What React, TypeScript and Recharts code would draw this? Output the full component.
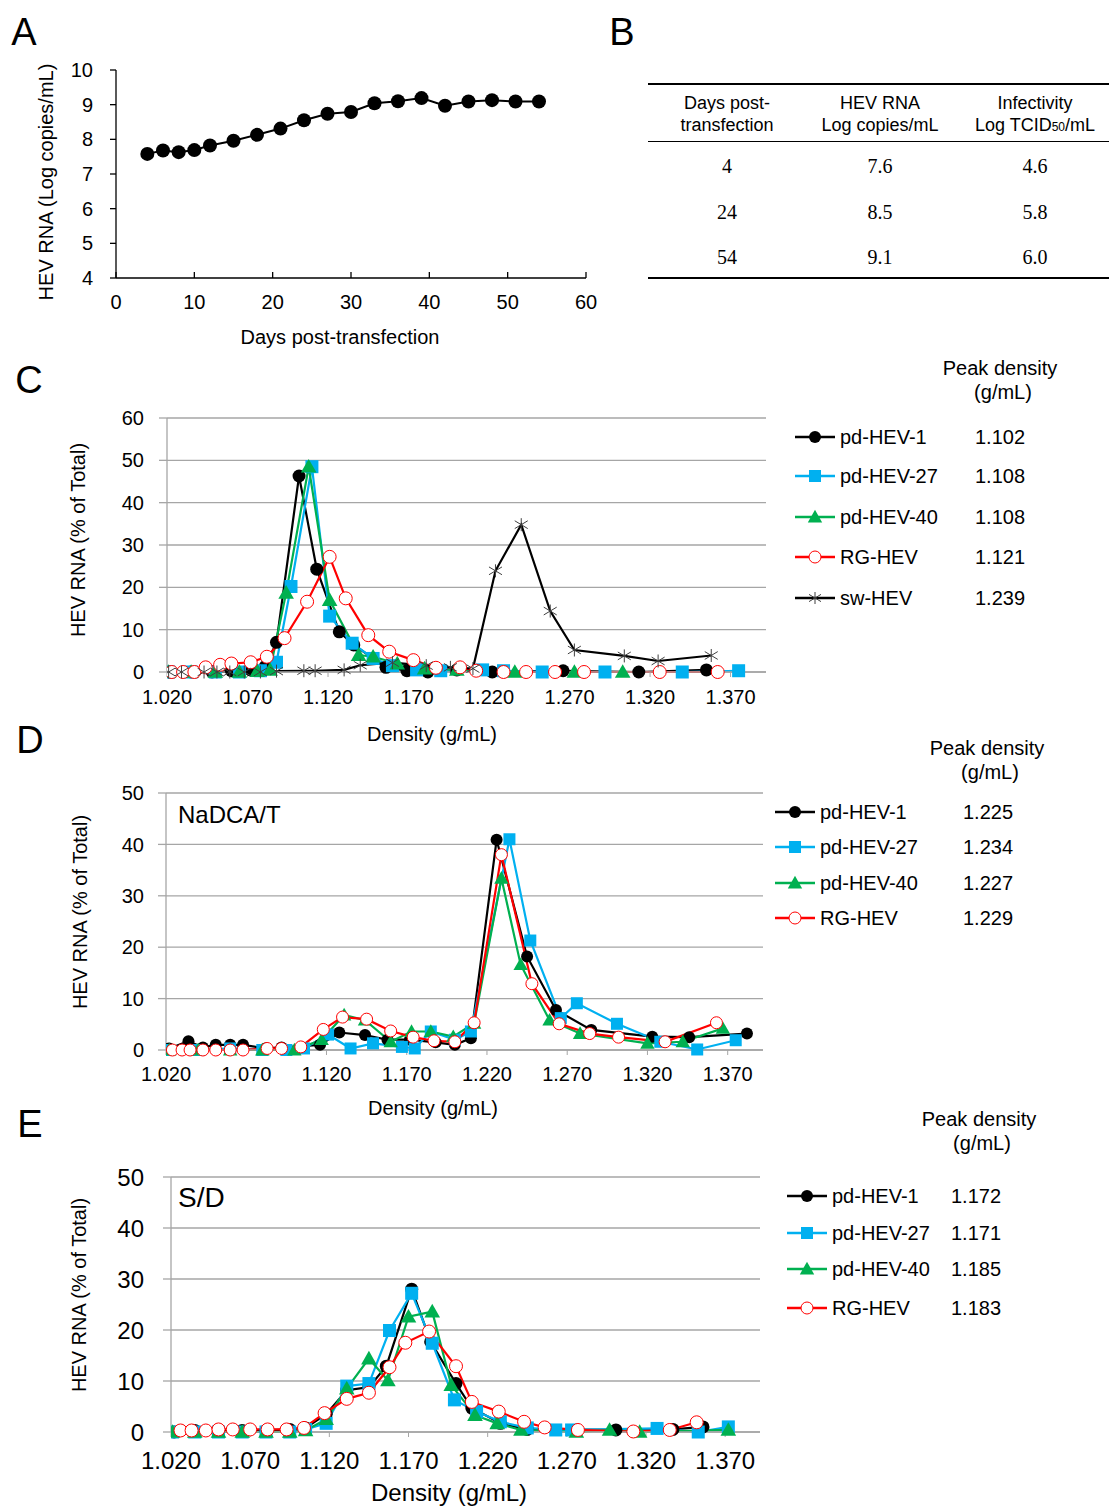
import React from 'react';
import { LineChart, Line, XAxis, YAxis, CartesianGrid } from 'recharts';

const SANS = '"Liberation Sans", Arial, sans-serif';
const SERIF = '"Liberation Serif", "Times New Roman", serif';
const GRID = '#a6a6a6';

// Panel A: HEV RNA over time
const aDays = [4, 6, 8, 10, 12, 15, 18, 21, 24, 27, 30, 33, 36, 39, 42, 45, 48, 51, 54];
const aRna = [7.58, 7.68, 7.63, 7.69, 7.82, 7.96, 8.13, 8.31, 8.55, 8.74, 8.79, 9.04, 9.1, 9.19, 8.97, 9.09, 9.13, 9.09, 9.09];
const aXTicks = [0, 10, 20, 30, 40, 50, 60];
const aYTicks = [4, 5, 6, 7, 8, 9, 10];

// Panel B: table
const tableDays = ['4', '24', '54'];
const tableRna = ['7.6', '8.5', '9.1'];
const tableInf = ['4.6', '5.8', '6.0'];

const densityTicks = [1.02, 1.07, 1.12, 1.17, 1.22, 1.27, 1.32, 1.37];

// Panel C
const c1x = [1.022, 1.035, 1.048, 1.06, 1.072, 1.081, 1.088, 1.102, 1.113, 1.127, 1.136, 1.156, 1.169, 1.182, 1.2, 1.222, 1.266, 1.313, 1.355];
const c1y = [0, 0, 0, 0.3, 0.5, 1.3, 7.0, 46.3, 24.3, 9.5, 6.4, 1.1, 0.3, 0, 0.5, 0, 0.3, 0, 0.5];
const c27x = [1.021, 1.035, 1.05, 1.065, 1.078, 1.088, 1.097, 1.11, 1.121, 1.135, 1.148, 1.16, 1.175, 1.19, 1.216, 1.229, 1.253, 1.292, 1.34, 1.375];
const c27y = [0, 0, 0, 0, 0.3, 2.3, 20.2, 48.5, 13.2, 6.8, 3.2, 1.5, 0.5, 0.3, 0.5, 0.3, 0, 0, 0, 0.3];
const c40x = [1.021, 1.035, 1.05, 1.065, 1.076, 1.084, 1.094, 1.108, 1.121, 1.139, 1.148, 1.163, 1.18, 1.2, 1.236, 1.273, 1.303];
const c40y = [0, 0, 0, 0, 0.2, 0.5, 18.7, 48.5, 17, 4.0, 3.6, 2.0, 0.8, 0.5, 0, 0, 0];
const cRgx = [1.023, 1.03, 1.037, 1.044, 1.053, 1.06, 1.072, 1.082, 1.093, 1.107, 1.121, 1.131, 1.145, 1.158, 1.173, 1.187, 1.202, 1.212, 1.229, 1.243, 1.261, 1.279, 1.326, 1.362];
const cRgy = [0, 0, 0, 1.1, 1.7, 2.0, 2.3, 3.6, 8.0, 16.6, 27.2, 17.4, 8.7, 4.8, 2.8, 1.0, 1.1, 0.3, 0, 0, 0, 0, 0, 0];
const cSwx = [1.021, 1.029, 1.043, 1.051, 1.059, 1.068, 1.078, 1.088, 1.105, 1.112, 1.13, 1.14, 1.16, 1.181, 1.196, 1.21, 1.224, 1.24, 1.258, 1.273, 1.304, 1.325, 1.358];
const cSwy = [0, 0, 0, 0, 0, 0, 0, 0.2, 0.3, 0.3, 0.5, 1.6, 2.2, 1.5, 1.1, 0.8, 23.9, 34.8, 14.4, 5.2, 3.8, 2.6, 3.9];
const cPeaks = ['1.102', '1.108', '1.108', '1.121', '1.239'];

// Panel D (NaDCA/T)
const d1x = [1.022, 1.034, 1.043, 1.051, 1.06, 1.068, 1.082, 1.092, 1.116, 1.128, 1.144, 1.158, 1.172, 1.188, 1.2, 1.21, 1.226, 1.245, 1.263, 1.285, 1.323, 1.346, 1.382];
const d1y = [0.3, 1.7, 0.5, 1.0, 1.0, 1.0, 0.3, 0.5, 1.0, 3.4, 2.9, 2.0, 2.0, 1.5, 1.0, 2.3, 40.9, 18.2, 7.8, 3.9, 2.6, 2.5, 3.2];
const d27x = [1.021, 1.04, 1.06, 1.08, 1.095, 1.106, 1.121, 1.135, 1.149, 1.167, 1.175, 1.185, 1.2, 1.21, 1.234, 1.247, 1.266, 1.276, 1.301, 1.328, 1.351, 1.375];
const d27y = [0, 0, 0.3, 0, 0, 0.3, 3.0, 0.3, 1.3, 0.6, 0.3, 3.6, 2.0, 3.6, 41, 21.3, 6.2, 9.1, 5.1, 1.6, 0.1, 1.9];
const d40x = [1.022, 1.04, 1.06, 1.08, 1.1, 1.117, 1.131, 1.144, 1.16, 1.173, 1.185, 1.199, 1.212, 1.229, 1.241, 1.259, 1.278, 1.32, 1.342, 1.367];
const d40y = [0, 0, 0, 0, 0, 2.0, 6.8, 5.8, 1.6, 3.6, 3.6, 2.6, 5.2, 33.4, 16.6, 5.8, 3.2, 1.3, 1.6, 4.2];
const dRgx = [1.024, 1.03, 1.035, 1.043, 1.051, 1.06, 1.068, 1.083, 1.092, 1.104, 1.118, 1.13, 1.145, 1.16, 1.174, 1.187, 1.2, 1.212, 1.229, 1.248, 1.265, 1.284, 1.302, 1.331, 1.363];
const dRgy = [0, 0, 0, 0, 0, 0, 0, 0.3, 0.3, 0.6, 4.0, 6.4, 6.0, 3.7, 2.5, 1.8, 1.6, 5.3, 38, 12.9, 5.1, 3.2, 2.5, 1.6, 5.3];
const dPeaks = ['1.225', '1.234', '1.227', '1.229'];

// Panel E (S/D)
const e1x = [1.022, 1.035, 1.05, 1.065, 1.08, 1.095, 1.105, 1.118, 1.131, 1.145, 1.156, 1.172, 1.184, 1.2, 1.21, 1.228, 1.245, 1.301, 1.337, 1.356];
const e1y = [0, 0.3, 0.3, 0.3, 0.3, 0.5, 0.8, 3.5, 8.2, 8.8, 12.9, 28, 17.7, 9.5, 4.7, 1.7, 0.5, 0.4, 0.5, 1.0];
const e27x = [1.021, 1.035, 1.05, 1.065, 1.08, 1.095, 1.105, 1.118, 1.131, 1.145, 1.158, 1.172, 1.185, 1.199, 1.213, 1.228, 1.245, 1.263, 1.273, 1.327, 1.353, 1.372];
const e27y = [0, 0, 0, 0, 0, 0, 0.5, 1.7, 9.0, 9.5, 19.9, 27.2, 17.4, 6.3, 4.0, 2.0, 0.8, 0.4, 0.4, 0.7, 0, 1.0];
const e40x = [1.021, 1.035, 1.05, 1.065, 1.08, 1.095, 1.105, 1.118, 1.131, 1.145, 1.157, 1.17, 1.185, 1.197, 1.212, 1.226, 1.241, 1.276, 1.297, 1.316, 1.372];
const e40y = [0, 0, 0, 0, 0, 0, 0.3, 2.5, 8.5, 14.4, 10.1, 22.6, 23.6, 9.2, 3.3, 1.7, 0.4, 0, 0.4, 0, 0.4];
const eRgx = [1.026, 1.033, 1.042, 1.05, 1.059, 1.07, 1.081, 1.093, 1.104, 1.117, 1.131, 1.145, 1.158, 1.168, 1.183, 1.2, 1.21, 1.227, 1.243, 1.256, 1.277, 1.312, 1.335, 1.352];
const eRgy = [0.3, 0.3, 0.3, 0.5, 0.5, 0.5, 0.5, 0.5, 0.8, 3.7, 6.5, 7.7, 12.7, 17.5, 19.7, 12.9, 5.9, 4.0, 2.0, 0.9, 0.4, 0.1, 0.4, 1.9];
const ePeaks = ['1.172', '1.171', '1.185', '1.183'];

const seriesNames = ['pd-HEV-1', 'pd-HEV-27', 'pd-HEV-40', 'RG-HEV', 'sw-HEV'];

const zip = (xs: number[], ys: number[]) => xs.map((x, i) => ({ x, y: ys[i] }));

type Marker = 'circle' | 'square' | 'triangle' | 'open' | 'star';
const styles: { color: string; marker: Marker }[] = [
  { color: '#000000', marker: 'circle' },
  { color: '#00b0f0', marker: 'square' },
  { color: '#00b050', marker: 'triangle' },
  { color: '#ff0000', marker: 'open' },
  { color: '#000000', marker: 'star' },
];

function markerShape(marker: Marker, color: string, cx: number, cy: number, s: number, key?: any) {
  if (marker === 'circle') return <circle key={key} cx={cx} cy={cy} r={s / 2} fill={color} />;
  if (marker === 'square') return <rect key={key} x={cx - s / 2} y={cy - s / 2} width={s} height={s} fill={color} />;
  if (marker === 'triangle')
    return (
      <polygon
        key={key}
        points={`${cx},${cy - s * 0.6} ${cx - s * 0.6},${cy + s * 0.45} ${cx + s * 0.6},${cy + s * 0.45}`}
        fill={color}
      />
    );
  if (marker === 'open') return <circle key={key} cx={cx} cy={cy} r={s / 2} fill="#fff" stroke={color} strokeWidth={1} />;
  const r = s / 2;
  return (
    <g key={key} stroke="#404040" strokeWidth={1}>
      <line x1={cx} y1={cy - r} x2={cx} y2={cy + r} />
      <line x1={cx - r} y1={cy - r * 0.6} x2={cx + r} y2={cy + r * 0.6} />
      <line x1={cx - r} y1={cy + r * 0.6} x2={cx + r} y2={cy - r * 0.6} />
    </g>
  );
}

const makeDot = (marker: Marker, color: string, s: number) => (p: any) => {
  const { cx, cy, index } = p;
  if (cx == null || cy == null) return <g key={`d${index}`} />;
  return markerShape(marker, color, cx, cy, s, `d${index}`);
};

function T({ x, y, size = 20, children, align = 'center', rotate = false, family = SANS, color = '#000' }: any) {
  let transform = align === 'center' ? 'translate(-50%,-50%)' : 'translate(0,-50%)';
  if (rotate) transform = 'translate(-50%,-50%) rotate(-90deg)';
  return (
    <div
      style={{
        position: 'absolute',
        left: x,
        top: y,
        transform,
        fontSize: size,
        fontFamily: family,
        color,
        whiteSpace: 'nowrap',
        lineHeight: 1.15,
        textAlign: 'center',
      }}
    >
      {children}
    </div>
  );
}

function LegendBlock({ x0, x1, labelX, valueX, rows, peaks, headerX, headerY }: any) {
  return (
    <>
      <T x={headerX} y={headerY}>Peak density</T>
      <T x={headerX + 3} y={headerY + 24}>(g/mL)</T>
      {rows.map((cy: number, i: number) => (
        <React.Fragment key={i}>
          <svg style={{ position: 'absolute', left: x0, top: cy - 10 }} width={x1 - x0} height={20}>
            <line x1={0} y1={10} x2={x1 - x0} y2={10} stroke={styles[i].color} strokeWidth={2.5} />
            {markerShape(styles[i].marker, styles[i].color, (x1 - x0) / 2, 10, 12)}
          </svg>
          <T x={labelX} y={cy} align="left">{seriesNames[i]}</T>
          <T x={valueX} y={cy} align="left">{peaks[i]}</T>
        </React.Fragment>
      ))}
    </>
  );
}

function DensityChart({ top, plotLeft, plotRight, plotTop, plotBottom, yMax, font, yTickMargin, xTickMargin, series, ms }: any) {
  const W = 800;
  const axisH = 50;
  const yTicks: number[] = [];
  for (let v = 0; v <= yMax; v += 10) yTicks.push(v);
  return (
    <div style={{ position: 'absolute', left: 0, top }}>
      <LineChart
        width={W}
        height={plotBottom - top + axisH}
        margin={{ top: plotTop - top, right: W - plotRight, bottom: 0, left: 0 }}
      >
        <CartesianGrid vertical={false} stroke={GRID} strokeWidth={1.3} />
        <XAxis
          type="number"
          dataKey="x"
          domain={[1.02, 1.392]}
          allowDataOverflow
          ticks={densityTicks}
          tickFormatter={(v: number) => v.toFixed(3)}
          height={axisH}
          axisLine={{ stroke: GRID, strokeWidth: 1.3 }}
          tickLine={{ stroke: GRID }}
          tickSize={5}
          tickMargin={xTickMargin}
          tick={{ fill: '#000', fontSize: font, fontFamily: SANS }}
        />
        <YAxis
          type="number"
          domain={[0, yMax]}
          ticks={yTicks}
          width={plotLeft}
          axisLine={{ stroke: GRID, strokeWidth: 1.3 }}
          tickLine={{ stroke: GRID, strokeWidth: 1.3 }}
          tickSize={8}
          tickMargin={yTickMargin}
          tick={{ fill: '#000', fontSize: font, fontFamily: SANS }}
        />
        {series.map((d: any[], i: number) => (
          <Line
            key={i}
            data={d}
            dataKey="y"
            type="linear"
            stroke={styles[i].color}
            strokeWidth={2.2}
            dot={makeDot(styles[i].marker, styles[i].color, ms)}
            activeDot={false}
            isAnimationActive={false}
          />
        ))}
      </LineChart>
    </div>
  );
}

export default function App() {
  const aData = zip(aDays, aRna);
  const cSeries = [zip(c1x, c1y), zip(c27x, c27y), zip(c40x, c40y), zip(cRgx, cRgy), zip(cSwx, cSwy)];
  const dSeries = [zip(d1x, d1y), zip(d27x, d27y), zip(d40x, d40y), zip(dRgx, dRgy)];
  const eSeries = [zip(e1x, e1y), zip(e27x, e27y), zip(e40x, e40y), zip(eRgx, eRgy)];
  const colX = [727, 880, 1035];

  return (
    <div style={{ position: 'absolute', left: 0, top: 0, width: 1109, height: 1506, background: '#fff', fontFamily: SANS, overflow: 'hidden' }}>
      {/* Panel letters */}
      <T x={24} y={33} size={38}>A</T>
      <T x={622} y={33} size={38}>B</T>
      <T x={29} y={381} size={38}>C</T>
      <T x={30} y={741} size={38}>D</T>
      <T x={30} y={1125} size={38}>E</T>

      {/* Panel A */}
      <div style={{ position: 'absolute', left: 0, top: 50 }}>
        <LineChart width={600} height={278} data={aData} margin={{ top: 20, right: 14, bottom: 0, left: 0 }}>
          <XAxis
            type="number"
            dataKey="x"
            domain={[0, 60]}
            ticks={aXTicks}
            height={50}
            axisLine={{ stroke: '#000', strokeWidth: 1.3 }}
            tickLine={{ stroke: '#000', strokeWidth: 1.3 }}
            tickSize={-6}
            tickMargin={23}
            tick={{ fill: '#000', fontSize: 20, fontFamily: SANS }}
          />
          <YAxis
            type="number"
            domain={[4, 10]}
            ticks={aYTicks}
            width={116}
            axisLine={{ stroke: '#000', strokeWidth: 1.3 }}
            tickLine={{ stroke: '#000', strokeWidth: 1.3 }}
            tickSize={6}
            tickMargin={17}
            tick={{ fill: '#000', fontSize: 20, fontFamily: SANS }}
          />
          <Line
            dataKey="y"
            type="linear"
            stroke="#000"
            strokeWidth={2}
            dot={makeDot('circle', '#000', 14)}
            activeDot={false}
            isAnimationActive={false}
          />
        </LineChart>
      </div>
      <T x={46} y={182} rotate>HEV RNA (Log copies/mL)</T>
      <T x={340} y={337}>Days post-transfection</T>

      {/* Panel B table */}
      <div style={{ position: 'absolute', left: 648, top: 83, width: 461, height: 2, background: '#000' }} />
      <div style={{ position: 'absolute', left: 648, top: 141, width: 461, height: 1, background: '#000' }} />
      <div style={{ position: 'absolute', left: 648, top: 277, width: 461, height: 2, background: '#000' }} />
      <T x={colX[0]} y={103} size={18}>Days post-</T>
      <T x={colX[0]} y={125} size={18}>transfection</T>
      <T x={colX[1]} y={103} size={18}>HEV RNA</T>
      <T x={colX[1]} y={125} size={18}>Log copies/mL</T>
      <T x={colX[2]} y={103} size={18}>Infectivity</T>
      <T x={colX[2]} y={125} size={18}>
        Log TCID<span style={{ fontSize: 12 }}>50</span>/mL
      </T>
      {tableDays.map((d, i) => (
        <React.Fragment key={i}>
          <T x={colX[0]} y={166 + i * 45.5} size={20} family={SERIF}>{d}</T>
          <T x={colX[1]} y={166 + i * 45.5} size={20} family={SERIF}>{tableRna[i]}</T>
          <T x={colX[2]} y={166 + i * 45.5} size={20} family={SERIF}>{tableInf[i]}</T>
        </React.Fragment>
      ))}

      {/* Panel C */}
      <DensityChart top={400} plotLeft={167} plotRight={766} plotTop={418} plotBottom={672} yMax={60} font={20} yTickMargin={15} xTickMargin={13} series={cSeries} ms={13} />
      <T x={78} y={540} rotate>HEV RNA (% of Total)</T>
      <T x={432} y={734}>Density (g/mL)</T>
      <LegendBlock x0={795} x1={835} labelX={840} valueX={975} rows={[437, 476, 517, 557, 598]} peaks={cPeaks} headerX={1000} headerY={368} />

      {/* Panel D */}
      <DensityChart top={775} plotLeft={166} plotRight={763} plotTop={793} plotBottom={1050} yMax={50} font={20} yTickMargin={14} xTickMargin={12} series={dSeries} ms={12} />
      <T x={80} y={912} rotate>HEV RNA (% of Total)</T>
      <T x={433} y={1108}>Density (g/mL)</T>
      <T x={178} y={815} size={24} align="left">NaDCA/T</T>
      <LegendBlock x0={775} x1={815} labelX={820} valueX={963} rows={[812, 847, 883, 918]} peaks={dPeaks} headerX={987} headerY={748} />

      {/* Panel E */}
      <DensityChart top={1160} plotLeft={171} plotRight={760} plotTop={1177} plotBottom={1432} yMax={50} font={24} yTickMargin={19} xTickMargin={15} series={eSeries} ms={13} />
      <T x={79} y={1295} rotate>HEV RNA (% of Total)</T>
      <T x={449} y={1493} size={24}>Density (g/mL)</T>
      <T x={178} y={1198} size={28} align="left">S/D</T>
      <LegendBlock x0={787} x1={827} labelX={832} valueX={951} rows={[1196, 1233, 1269, 1308]} peaks={ePeaks} headerX={979} headerY={1119} />
    </div>
  );
}
